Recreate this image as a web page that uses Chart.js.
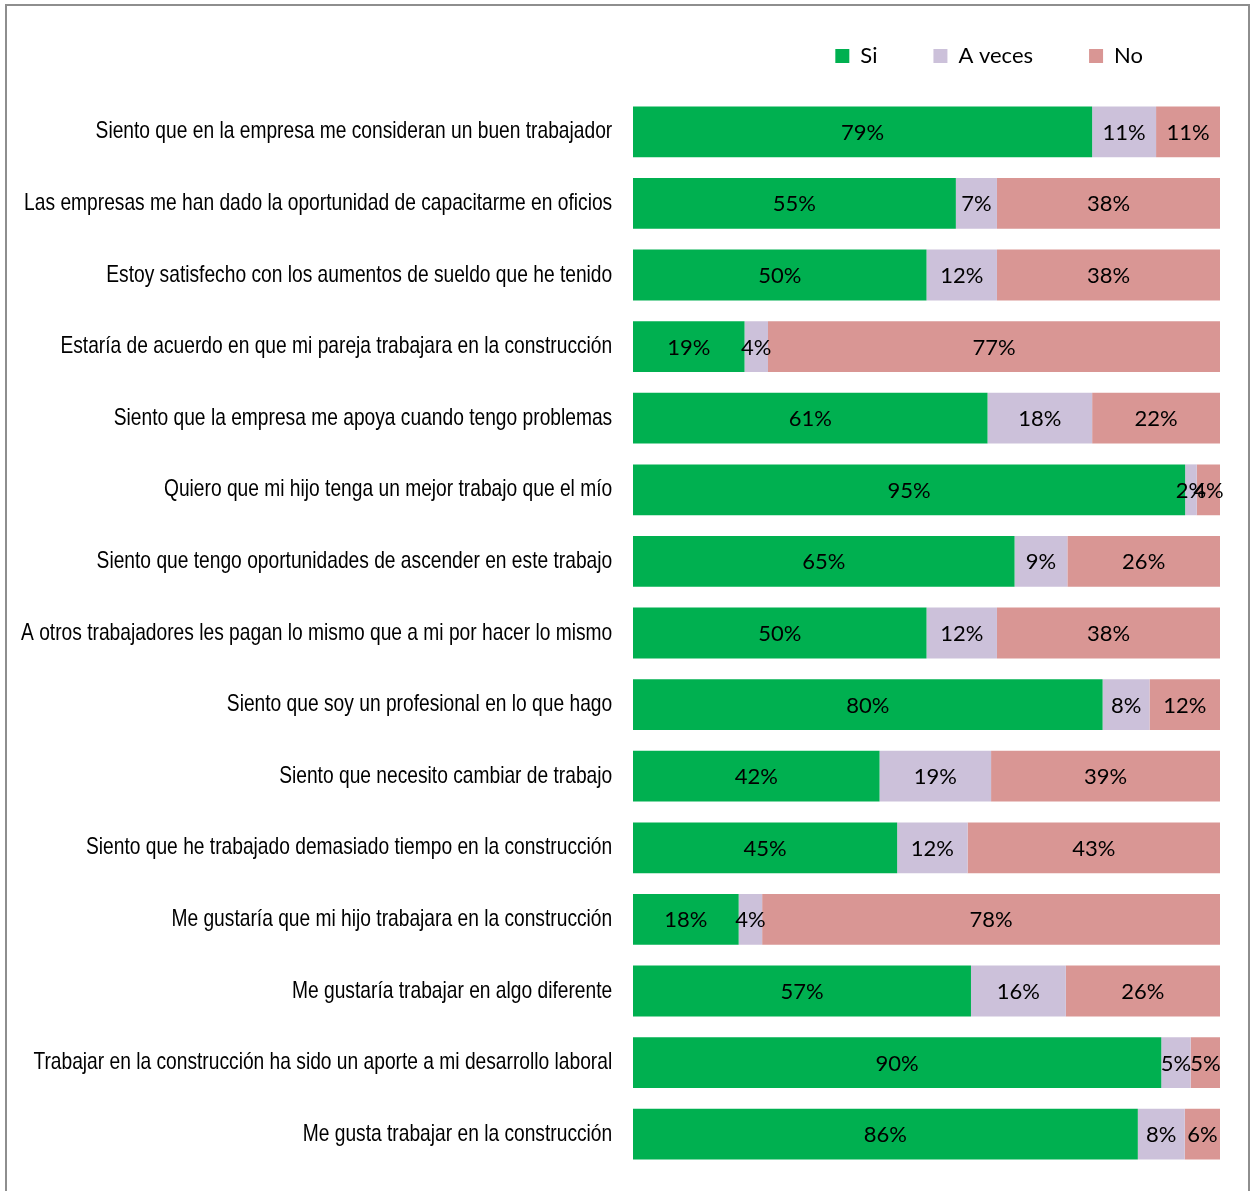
<!DOCTYPE html>
<html>
<head>
<meta charset="utf-8">
<script src="https://cdn.jsdelivr.net/npm/chart.js@4/dist/chart.umd.min.js"></script>
<style>
  body { margin: 0; background: #fff; }
  #wrap { position: relative; width: 1253px; height: 1191px; overflow: hidden; }
  #frame { position: absolute; left: 5px; top: 4px; width: 1241px; height: 1300px;
           border: 2px solid #8e8e8e; box-sizing: content-box; pointer-events: none; }
</style>
</head>
<body>
<div id="wrap">
  <canvas id="surveyChart" width="1253" height="1191"></canvas>
  <div id="frame"></div>
</div>
<script>
const categories = [
  "Siento que en la empresa me consideran un buen trabajador",
  "Las empresas me han dado la oportunidad de capacitarme en oficios",
  "Estoy satisfecho con los aumentos de sueldo que he tenido",
  "Estaría de acuerdo en que mi pareja trabajara en la construcción",
  "Siento que la empresa me apoya cuando tengo problemas",
  "Quiero que mi hijo tenga un mejor trabajo que el mío",
  "Siento que tengo oportunidades de ascender en este trabajo",
  "A otros trabajadores les pagan lo mismo que a mi por hacer lo mismo",
  "Siento que soy un profesional en lo que hago",
  "Siento que necesito cambiar de trabajo",
  "Siento que he trabajado demasiado tiempo en la construcción",
  "Me gustaría que mi hijo trabajara en la construcción",
  "Me gustaría trabajar en algo diferente",
  "Trabajar en la construcción ha sido un aporte a mi desarrollo laboral",
  "Me gusta trabajar en la construcción"
];

const si     = [79, 55, 50, 19, 61, 95, 65, 50, 80, 42, 45, 18, 57, 90, 86];
const aVeces = [11,  7, 12,  4, 18,  2,  9, 12,  8, 19, 12,  4, 16,  5,  8];
const no     = [11, 38, 38, 77, 22,  4, 26, 38, 12, 39, 43, 78, 26,  5,  6];

// 100% stacked: each row scaled to its own total
const share = arr => arr.map((v, i) => v / (si[i] + aVeces[i] + no[i]) * 100);

const labelFont = "Lato, 'Open Sans', sans-serif";
const axisFont = "'Liberation Sans', Arial, sans-serif";
const narrow = 0.8; // no Arial Narrow installed, squeeze Liberation Sans instead

const barLabels = {
  id: "barLabels",
  afterDatasetsDraw(chart) {
    const { ctx } = chart;
    ctx.save();
    ctx.font = "22px " + labelFont;
    ctx.fillStyle = "#000";
    ctx.textAlign = "center";
    ctx.textBaseline = "middle";
    chart.data.datasets.forEach((ds, i) => {
      chart.getDatasetMeta(i).data.forEach((bar, j) => {
        const { x, y, base } = bar.getProps(["x", "y", "base"], true);
        ctx.fillText(ds.raw[j] + "%", (x + base) / 2, y + 1);
      });
    });
    ctx.restore();
  }
};

const layoutTweaks = {
  id: "layoutTweaks",
  beforeInit(chart) {
    const fit = chart.legend.fit;
    chart.legend.fit = function () {
      fit.call(this);
      this.height += 19;
    };
  },
  afterLayout(chart) {
    chart.legend.left -= 21;
    chart.legend.right -= 21;
    const y = chart.scales.y;
    if (!y._narrowed) {
      const draw = y.drawLabels;
      y.drawLabels = function (area) {
        const c = this.ctx;
        const left = this.left;
        this.left = this.right - this.width / narrow; // widen the label clip box
        c.save();
        c.translate(this.right, 0);
        c.scale(narrow, 1);
        c.translate(-this.right, 0);
        draw.call(this, area);
        c.restore();
        this.left = left;
      };
      y._narrowed = true;
    }
  }
};

new Chart(document.getElementById("surveyChart"), {
  type: "bar",
  data: {
    labels: categories,
    datasets: [
      { label: "Si", raw: si, data: share(si), backgroundColor: "#00B050" },
      { label: "A veces", raw: aVeces, data: share(aVeces), backgroundColor: "#CCC1DA" },
      { label: "No", raw: no, data: share(no), backgroundColor: "#D99694" }
    ]
  },
  options: {
    indexAxis: "y",
    responsive: false,
    animation: false,
    datasets: { bar: { categoryPercentage: 1, barPercentage: 0.71, borderWidth: 0 } },
    layout: { padding: { top: -11, right: 33, bottom: 21, left: 0 } },
    plugins: {
      tooltip: { enabled: false },
      legend: {
        position: "top",
        align: "end",
        labels: {
          boxWidth: 14,
          boxHeight: 14,
          padding: 56,
          color: "#000",
          font: { family: labelFont, size: 22 }
        }
      }
    },
    scales: {
      x: { display: false, stacked: true, min: 0, max: 100 },
      y: {
        stacked: true,
        grid: { display: false, drawTicks: false },
        border: { display: false },
        ticks: { color: "#000", padding: 26, font: { family: axisFont, size: 24 } },
        afterFit(scale) {
          scale.width = 633;
          scale.paddingTop = 0;
          scale.paddingBottom = 0;
        }
      }
    }
  },
  plugins: [barLabels, layoutTweaks]
});
</script>
</body>
</html>
